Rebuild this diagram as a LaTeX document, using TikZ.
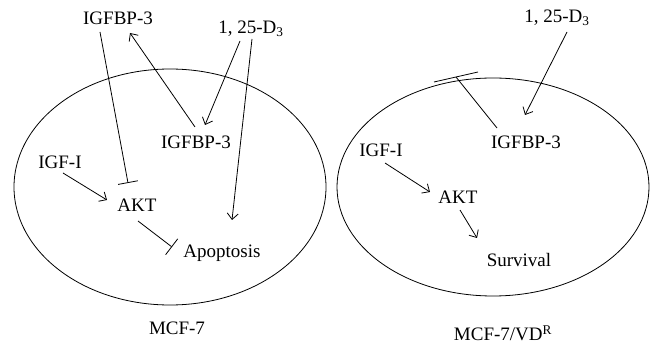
\documentclass[tikz,border=0pt]{standalone}
\usepackage{fontspec}
\setmainfont{Liberation Serif}
\usetikzlibrary{arrows.meta,calc}

\begin{document}
\begin{tikzpicture}[x=1pt, y=1pt, line width=0.8pt,
        lbl/.style = {inner sep=0pt, font=\fontsize{19}{22}\selectfont},
        act/.style = {-{Straight Barb[length=6pt,width=11pt]}},
        inh/.style = {-{Bar[width=20pt]}}]
    \useasboundingbox (0,0) rectangle (654,343);
    % MCF-7
    \draw (170,156) ellipse [x radius=156, y radius=118];
    \node [lbl] (topigf) at (118,325) {IGFBP-3};
    \node [lbl] (dthree) at (251,314) {1, 25-D\textsubscript{3}};
    \node [lbl] (inigf) at (196,201) {IGFBP-3};
    \node [lbl] (igf) at (60,181) {IGF-I};
    \node [lbl] (akt) at (137,138) {AKT};
    \node [lbl] (apop) at (222,90) {Apoptosis};
    \node [lbl] (mcf) at (177,15) {MCF-7};
    \draw [inh] ($(topigf)+(-18,-14)$) -- ($(akt)+(-9,22)$);
    \draw [act] ($(inigf)+(-1,15)$) -- ($(topigf)+(12,-15)$);
    \draw [act] ($(dthree)+(-11,-12)$) -- ($(inigf)+(9,17)$);
    \draw [act] ($(dthree)+(1,-10)$) -- ($(apop)+(10,33)$);
    \draw [act] ($(igf)+(3,-11)$) -- ($(akt)+(-30,5)$);
    \draw [inh] ($(akt)+(1,-16)$) -- ($(apop)+(-50,6)$);
    % MCF-7/VD^R
    \draw (493,156) ellipse [x radius=156, y radius=109];
    \node [lbl] (rdthree) at (557,325) {1, 25-D\textsubscript{3}};
    \node [lbl] (rigf3) at (526,201) {IGFBP-3};
    \node [lbl] (rigf) at (381,193) {IGF-I};
    \node [lbl] (rakt) at (458,146) {AKT};
    \node [lbl] (surv) at (519,83) {Survival};
    \node [lbl] (vdr) at (503,10) {MCF-7/VD\textsuperscript{R}};
    \coordinate (blk) at (456,266);
    \draw [act] ($(rdthree)+(10,-14)$) -- ($(rigf3)+(-1,27)$);
    \draw ($(rigf3)+(-29,14)$) -- (blk);
    \draw ($(blk)+(-22,-5)$) -- ($(blk)+(22,5)$);
    \draw [act] ($(rigf)+(4,-13)$) -- ($(rakt)+(-28,5)$);
    \draw [act] ($(rakt)+(2,-13)$) -- ($(surv)+(-42,22)$);
\end{tikzpicture}
\end{document}
